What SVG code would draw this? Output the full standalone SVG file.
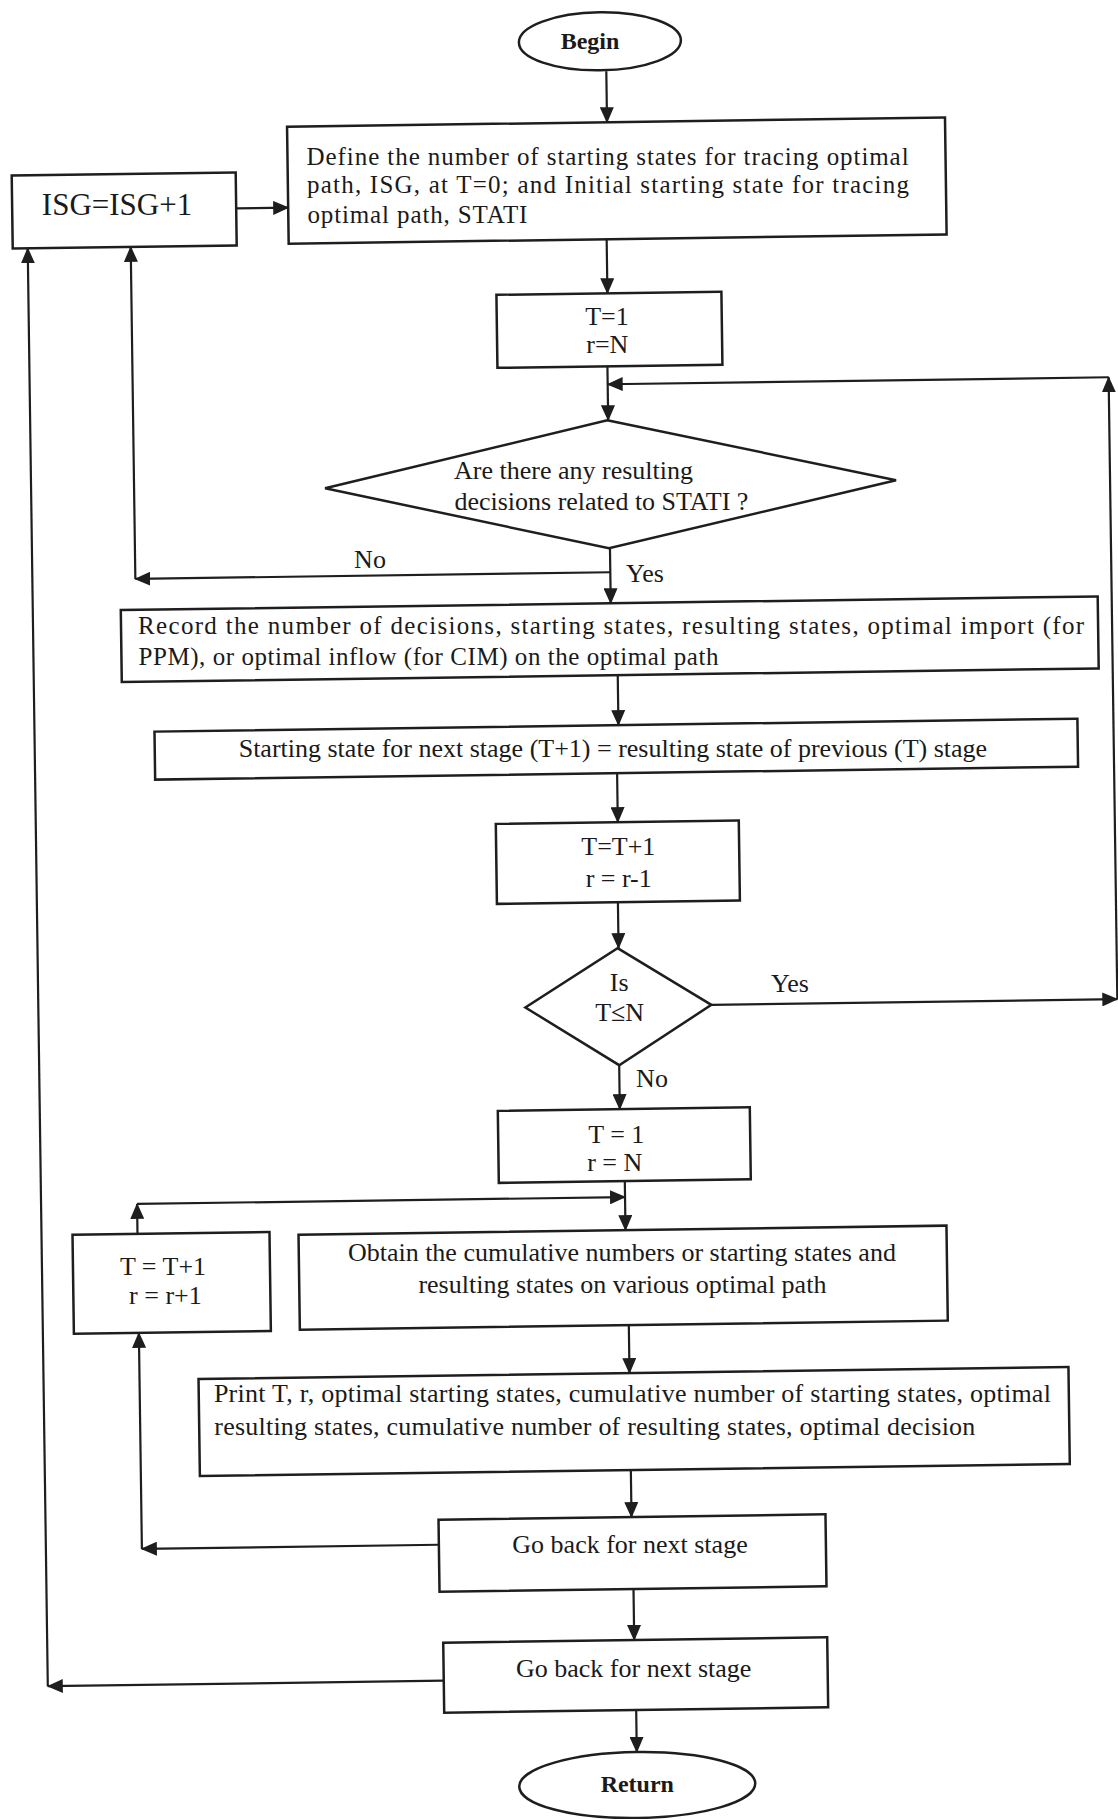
<svg xmlns="http://www.w3.org/2000/svg" width="1118" height="1819" viewBox="0 0 1118 1819">
<style>
.box{fill:none;stroke:#1e1e1e;stroke-width:2.5}
.ln{fill:none;stroke:#1e1e1e;stroke-width:2.2}
.t{font-family:"Liberation Serif","Times New Roman",serif;font-size:26px;fill:#1a1a1a}
.s{font-size:25px}
.c{text-anchor:middle}
.b{font-weight:bold;font-size:24px}
</style>
<defs>
<marker id="ah" markerUnits="userSpaceOnUse" markerWidth="16" markerHeight="14" refX="15" refY="7" orient="auto"><path d="M0,0 L16,7 L0,14 z" fill="#1e1e1e"/></marker>
</defs>
<rect width="1118" height="1819" fill="#fff"/>
<g id="connectors">
<g transform="rotate(-0.8 559 909)">
<line class="ln" x1="618" y1="72" x2="618" y2="123" marker-end="url(#ah)"/>
<line class="ln" x1="246" y1="204" x2="298" y2="204" marker-end="url(#ah)"/>
<line class="ln" x1="616" y1="240" x2="616" y2="294" marker-end="url(#ah)"/>
<line class="ln" x1="615" y1="367" x2="615" y2="421" marker-end="url(#ah)"/>
<line class="ln" x1="710" y1="1007" x2="1116" y2="1007" marker-end="url(#ah)"/>
<line class="ln" x1="1116" y1="1007" x2="1116" y2="385" marker-end="url(#ah)"/>
<line class="ln" x1="1116" y1="385" x2="615" y2="385" marker-end="url(#ah)"/>
<line class="ln" x1="615" y1="549" x2="615" y2="604" marker-end="url(#ah)"/>
<line class="ln" x1="615" y1="573" x2="140" y2="573" marker-end="url(#ah)"/>
<line class="ln" x1="140" y1="573" x2="140" y2="241" marker-end="url(#ah)"/>
<line class="ln" x1="621" y1="676" x2="621" y2="726" marker-end="url(#ah)"/>
<line class="ln" x1="619" y1="774" x2="619" y2="823" marker-end="url(#ah)"/>
<line class="ln" x1="618" y1="903" x2="618" y2="949" marker-end="url(#ah)"/>
<line class="ln" x1="617" y1="1066" x2="617" y2="1110" marker-end="url(#ah)"/>
<line class="ln" x1="621" y1="1182" x2="621" y2="1231" marker-end="url(#ah)"/>
<line class="ln" x1="133" y1="1228" x2="133" y2="1198" marker-end="url(#ah)"/>
<line class="ln" x1="133" y1="1198" x2="621" y2="1198" marker-end="url(#ah)"/>
<line class="ln" x1="623" y1="1326" x2="623" y2="1374" marker-end="url(#ah)"/>
<line class="ln" x1="623" y1="1471" x2="623" y2="1518" marker-end="url(#ah)"/>
<line class="ln" x1="430" y1="1543" x2="133" y2="1543" marker-end="url(#ah)"/>
<line class="ln" x1="133" y1="1543" x2="133" y2="1327" marker-end="url(#ah)"/>
<line class="ln" x1="624" y1="1590" x2="624" y2="1641" marker-end="url(#ah)"/>
<line class="ln" x1="433" y1="1679" x2="37" y2="1679" marker-end="url(#ah)"/>
<line class="ln" x1="37" y1="1679" x2="37" y2="241" marker-end="url(#ah)"/>
<line class="ln" x1="625" y1="1711" x2="625" y2="1753" marker-end="url(#ah)"/>
</g>
<text class="t c" x="370" y="568">No</text>
<text class="t c" x="645" y="582">Yes</text>
<text class="t c" x="790" y="992">Yes</text>
<text class="t c" x="652" y="1087">No</text>
</g>
<g id="begin"><ellipse class="box" transform="rotate(-0.8 559 909)" cx="612" cy="42" rx="81" ry="29"/><text class="t c b" x="590" y="49">Begin</text></g>
<g id="define"><rect class="box" transform="rotate(-0.8 559 909)" x="298" y="123" width="658" height="117"/>
<text class="t s" x="306.6" y="165.2" textLength="602" lengthAdjust="spacing">Define the number of starting states for tracing optimal</text>
<text class="t s" x="307" y="193.2" textLength="602" lengthAdjust="spacing">path, ISG, at T=0; and Initial starting state for tracing</text>
<text class="t s" x="307.4" y="223.3" textLength="220" lengthAdjust="spacing">optimal path, STATI</text></g>
<g id="isg"><rect class="box" transform="rotate(-0.8 559 909)" x="22" y="168" width="224" height="73"/><text class="t c" x="117" y="215" style="font-size:31px">ISG=ISG+1</text></g>
<g id="init1"><rect class="box" transform="rotate(-0.8 559 909)" x="505" y="294" width="225" height="73"/><text class="t c" x="607" y="325.2">T=1</text><text class="t c" x="607.3" y="353.2">r=N</text></g>
<g id="decision1"><polygon class="box" transform="rotate(-0.8 559 909)" points="614,421 902,485 614,549 331,485"/>
<text class="t" x="454" y="478.7">Are there any resulting</text>
<text class="t" x="454.4" y="510.3">decisions related to STATI ?</text></g>
<g id="record"><rect class="box" transform="rotate(-0.8 559 909)" x="125" y="604" width="977" height="72"/>
<text class="t s" x="138.1" y="634" textLength="946" lengthAdjust="spacing">Record the number of decisions, starting states, resulting states, optimal import (for</text>
<text class="t s" x="138.5" y="665" textLength="580" lengthAdjust="spacing">PPM), or optimal inflow (for CIM) on the optimal path</text></g>
<g id="carry"><rect class="box" transform="rotate(-0.8 559 909)" x="157" y="726" width="923" height="48"/>
<text class="t c" x="612.9" y="757.2">Starting state for next stage (T+1) = resulting state of previous (T) stage</text></g>
<g id="inc1"><rect class="box" transform="rotate(-0.8 559 909)" x="497" y="823" width="243" height="80"/><text class="t c" x="618.3" y="855.2">T=T+1</text><text class="t c" x="618.7" y="887.2">r = r-1</text></g>
<g id="decision2"><polygon class="box" transform="rotate(-0.8 559 909)" points="617,949 710,1007 617,1066 524,1007"/><text class="t c" x="619.2" y="991.2">Is</text><text class="t c" x="619.6" y="1021.2">T≤N</text></g>
<g id="init2"><rect class="box" transform="rotate(-0.8 559 909)" x="495" y="1110" width="252" height="72"/><text class="t c" x="616.3" y="1143.2">T = 1</text><text class="t c" x="614.7" y="1171.3">r = N</text></g>
<g id="obtain"><rect class="box" transform="rotate(-0.8 559 909)" x="294" y="1231" width="648" height="95"/>
<text class="t c" x="621.9" y="1261.2">Obtain the cumulative numbers or starting states and</text>
<text class="t c" x="622.4" y="1293.2">resulting states on various optimal path</text></g>
<g id="inc2"><rect class="box" transform="rotate(-0.8 559 909)" x="68" y="1228" width="197" height="99"/><text class="t c" x="163" y="1274.6">T = T+1</text><text class="t c" x="165.4" y="1303.5">r = r+1</text></g>
<g id="print"><rect class="box" transform="rotate(-0.8 559 909)" x="192" y="1374" width="870" height="97"/>
<text class="t" x="213.9" y="1402.1" textLength="837" lengthAdjust="spacing">Print T, r, optimal starting states, cumulative number of starting states, optimal</text>
<text class="t" x="214.3" y="1434.6" textLength="761" lengthAdjust="spacing">resulting states, cumulative number of resulting states, optimal decision</text></g>
<g id="goback1"><rect class="box" transform="rotate(-0.8 559 909)" x="430" y="1518" width="387" height="72"/><text class="t c" x="630" y="1553.1">Go back for next stage</text></g>
<g id="goback2"><rect class="box" transform="rotate(-0.8 559 909)" x="433" y="1641" width="384" height="70"/><text class="t c" x="633.7" y="1677.1">Go back for next stage</text></g>
<g id="return"><ellipse class="box" transform="rotate(-0.8 559 909)" cx="625" cy="1786" rx="118" ry="33"/><text class="t c b" x="637.3" y="1792.1">Return</text></g>
</svg>
